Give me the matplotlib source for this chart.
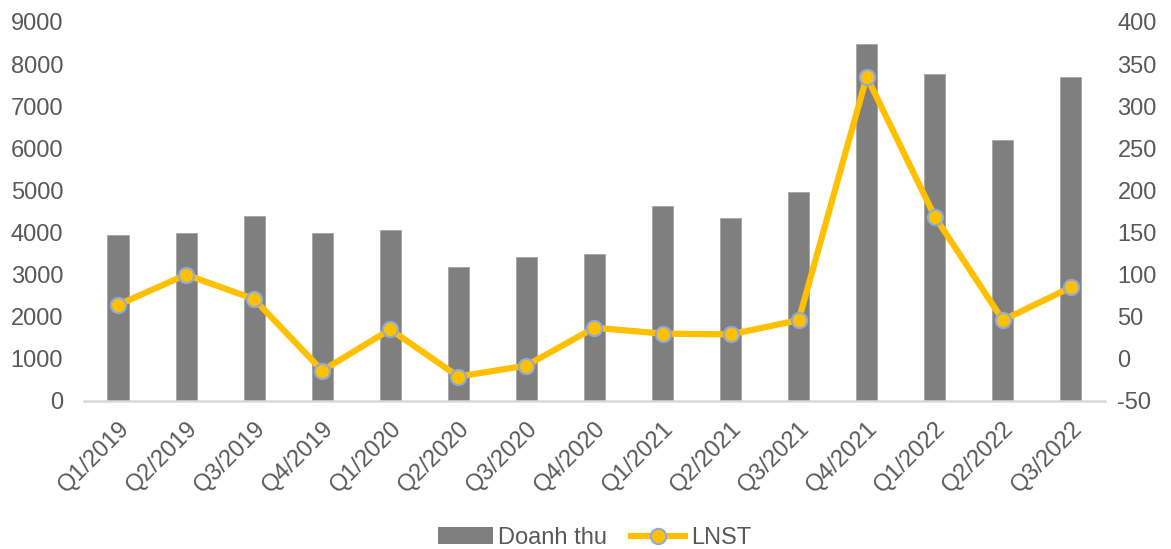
import numpy as np
import matplotlib
matplotlib.use('Agg')
import matplotlib.pyplot as plt
from matplotlib.lines import Line2D
from matplotlib.patches import Patch

quarters = ['Q1/2019', 'Q2/2019', 'Q3/2019', 'Q4/2019', 'Q1/2020', 'Q2/2020',
            'Q3/2020', 'Q4/2020', 'Q1/2021', 'Q2/2021', 'Q3/2021', 'Q4/2021',
            'Q1/2022', 'Q2/2022', 'Q3/2022']
doanh_thu = [3950, 3980, 4400, 4000, 4070, 3180, 3410, 3500,
             4640, 4340, 4970, 8470, 7770, 6200, 7700]
lnst = [64, 100, 71, -14, 35, -21, -8, 37,
        30, 29, 46, 335, 169, 46, 85]

plt.rcParams['font.family'] = ['Liberation Sans', 'DejaVu Sans']
plt.rcParams['axes.unicode_minus'] = False
text_color = '#595959'
bar_color = '#7F7F7F'
line_color = '#FFC000'
edge_color = '#8EA9DB'

fig = plt.figure(figsize=(11.71, 5.49), dpi=100)
ax = fig.add_axes([0.0717, 0.2696, 0.8719, 0.6904])
x = np.arange(len(quarters))

ax.bar(x, doanh_thu, width=0.31, color=bar_color, edgecolor='#A6A6A6', linewidth=0.6, zorder=2)
ax.set_xlim(-0.5, len(quarters) - 0.5)
ax.set_ylim(0, 9000)
ax.set_yticks(np.arange(0, 9001, 1000))
ax.set_xticks(x)
ax.set_xticklabels(quarters, rotation=45, ha='right', rotation_mode='anchor')

ax2 = ax.twinx()
ax2.plot(x, lnst, color=line_color, linewidth=4.5, marker='o', markersize=11,
         markerfacecolor=line_color, markeredgecolor=edge_color, markeredgewidth=1.5, zorder=3)
ax2.set_ylim(-50, 400)
ax2.set_yticks(np.arange(-50, 401, 50))

for a in (ax, ax2):
    for s in a.spines.values():
        s.set_visible(False)
    a.tick_params(length=0, labelsize=17, colors=text_color)
ax.spines['bottom'].set_visible(True)
ax.spines['bottom'].set_color('#D9D9D9')
ax.spines['bottom'].set_linewidth(1.8)
ax.tick_params(axis='y', pad=15)
ax.tick_params(axis='x', pad=12)
ax2.tick_params(axis='y', pad=9)

handles = [Patch(facecolor=bar_color, label='Doanh thu'),
           Line2D([0], [0], color=line_color, linewidth=4.5, marker='o', markersize=11,
                  markerfacecolor=line_color, markeredgecolor=edge_color, markeredgewidth=1.5,
                  label='LNST')]
fig.legend(handles=handles, loc='center', bbox_to_anchor=(0.508, 0.02), ncol=2, frameon=False,
           fontsize=17, labelcolor=text_color, handlelength=2.3, handletextpad=0.25,
           columnspacing=1.0)

fig.savefig('out.png', dpi=100)
